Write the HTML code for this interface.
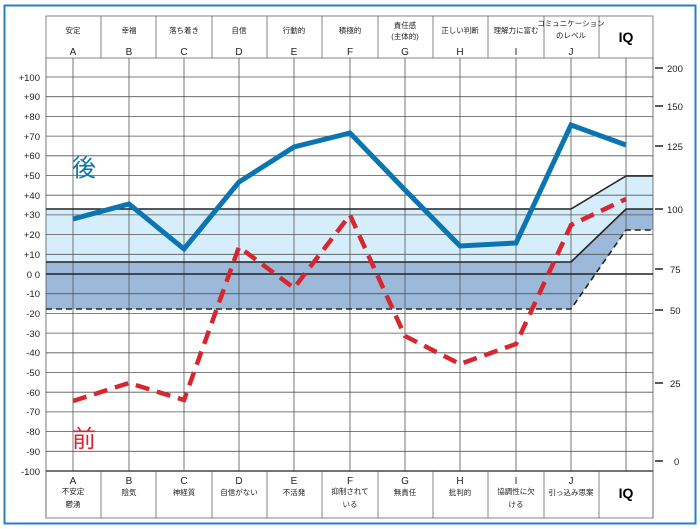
<!DOCTYPE html>
<html><head><meta charset="utf-8"><style>
body{margin:0;background:#fff;width:700px;height:529px;overflow:hidden}
svg{display:block;font-family:"Liberation Sans","Noto Sans CJK JP",sans-serif}
</style></head><body>
<svg width="700" height="529" viewBox="0 0 700 529">
<rect x="4.5" y="5.5" width="691" height="518" fill="#fff" stroke="#2a7fc0" stroke-width="2"/>
<!-- bands -->
<polygon points="46,209 571,209 626,176 653,176 653,209 626,209 571,262 46,262" fill="#d6eefb"/>
<polygon points="46,262 571,262 626,209 653,209 653,230 626,230 571,309 46,309" fill="#9db9da"/>
<!-- grid -->
<g stroke="#555" stroke-width="0.8">
<line x1="46" y1="77" x2="653" y2="77"/><line x1="46" y1="96.7" x2="653" y2="96.7"/><line x1="46" y1="116.4" x2="653" y2="116.4"/><line x1="46" y1="136.1" x2="653" y2="136.1"/><line x1="46" y1="155.8" x2="653" y2="155.8"/><line x1="46" y1="175.5" x2="653" y2="175.5"/><line x1="46" y1="195.2" x2="653" y2="195.2"/><line x1="46" y1="214.9" x2="653" y2="214.9"/><line x1="46" y1="234.6" x2="653" y2="234.6"/><line x1="46" y1="254.3" x2="653" y2="254.3"/><line x1="46" y1="293.7" x2="653" y2="293.7"/><line x1="46" y1="313.4" x2="653" y2="313.4"/><line x1="46" y1="333.1" x2="653" y2="333.1"/><line x1="46" y1="352.8" x2="653" y2="352.8"/><line x1="46" y1="372.5" x2="653" y2="372.5"/><line x1="46" y1="392.2" x2="653" y2="392.2"/><line x1="46" y1="411.9" x2="653" y2="411.9"/><line x1="46" y1="431.6" x2="653" y2="431.6"/><line x1="46" y1="451.3" x2="653" y2="451.3"/>
<line x1="73" y1="58" x2="73" y2="471"/><line x1="129" y1="58" x2="129" y2="471"/><line x1="184" y1="58" x2="184" y2="471"/><line x1="239" y1="58" x2="239" y2="471"/><line x1="294" y1="58" x2="294" y2="471"/><line x1="350" y1="58" x2="350" y2="471"/><line x1="405" y1="58" x2="405" y2="471"/><line x1="460" y1="58" x2="460" y2="471"/><line x1="516" y1="58" x2="516" y2="471"/><line x1="571" y1="58" x2="571" y2="471"/><line x1="626" y1="58" x2="626" y2="471"/>
<line x1="46" y1="58" x2="46" y2="518"/><line x1="653" y1="58" x2="653" y2="518"/>
</g>
<g stroke="#222" stroke-width="1.6" fill="none">
<line x1="46" y1="274" x2="653" y2="274"/>
<polyline points="46,209 571,209 626,176 653,176"/>
<polyline points="46,262 571,262 626,209 653,209"/>
<polyline points="46,309 571,309 626,230 653,230" stroke-dasharray="6,4"/>
<line x1="46" y1="471" x2="653" y2="471"/>
</g>
<!-- header boxes -->
<g stroke="#666" stroke-width="0.8" fill="none">
<rect x="46" y="16" width="607" height="42"/>
<rect x="46" y="471" width="607" height="47"/>
<line x1="101" y1="16" x2="101" y2="58"/><line x1="156" y1="16" x2="156" y2="58"/><line x1="212" y1="16" x2="212" y2="58"/><line x1="267" y1="16" x2="267" y2="58"/><line x1="322" y1="16" x2="322" y2="58"/><line x1="378" y1="16" x2="378" y2="58"/><line x1="433" y1="16" x2="433" y2="58"/><line x1="488" y1="16" x2="488" y2="58"/><line x1="544" y1="16" x2="544" y2="58"/><line x1="599" y1="16" x2="599" y2="58"/>
<line x1="101" y1="471" x2="101" y2="518"/><line x1="156" y1="471" x2="156" y2="518"/><line x1="212" y1="471" x2="212" y2="518"/><line x1="267" y1="471" x2="267" y2="518"/><line x1="322" y1="471" x2="322" y2="518"/><line x1="378" y1="471" x2="378" y2="518"/><line x1="433" y1="471" x2="433" y2="518"/><line x1="488" y1="471" x2="488" y2="518"/><line x1="544" y1="471" x2="544" y2="518"/><line x1="599" y1="471" x2="599" y2="518"/>
</g>
<g font-size="7.5" text-anchor="middle" fill="#222">
<text x="73" y="33">安定</text><text x="129" y="33">幸福</text><text x="184" y="33">落ち着き</text><text x="239" y="33">自信</text><text x="294" y="33">行動的</text><text x="350" y="33">積極的</text><text x="405" y="28">責任感</text><text x="405" y="39">(主体的)</text><text x="460" y="33">正しい判断</text><text x="516" y="33">理解力に富む</text><text x="571" y="26">コミュニケーション</text><text x="571" y="38">のレベル</text>
</g>
<g font-size="10" text-anchor="middle" fill="#222">
<text x="73" y="55">A</text><text x="129" y="55">B</text><text x="184" y="55">C</text><text x="239" y="55">D</text><text x="294" y="55">E</text><text x="350" y="55">F</text><text x="405" y="55">G</text><text x="460" y="55">H</text><text x="516" y="55">I</text><text x="571" y="55">J</text>
<text x="73" y="484">A</text><text x="129" y="484">B</text><text x="184" y="484">C</text><text x="239" y="484">D</text><text x="294" y="484">E</text><text x="350" y="484">F</text><text x="405" y="484">G</text><text x="460" y="484">H</text><text x="516" y="484">I</text><text x="571" y="484">J</text>
</g>
<text x="626" y="42" font-size="14" font-weight="bold" text-anchor="middle">IQ</text>
<text x="626" y="498" font-size="14" font-weight="bold" text-anchor="middle">IQ</text>
<g font-size="7.5" text-anchor="middle" fill="#222">
<text x="73" y="494">不安定</text><text x="73" y="507">鬱湧</text><text x="129" y="495">陰気</text><text x="184" y="495">神経質</text><text x="239" y="495">自信がない</text><text x="294" y="495">不活発</text><text x="350" y="494">抑制されて</text><text x="350" y="507">いる</text><text x="405" y="495">無責任</text><text x="460" y="495">批判的</text><text x="516" y="494">協調性に欠</text><text x="516" y="507">ける</text><text x="571" y="495">引っ込み思案</text>
</g>
<!-- left labels -->
<g font-size="9.5" text-anchor="end" fill="#222">
<text x="40" y="81">+100</text><text x="40" y="100">+90</text><text x="40" y="120">+80</text><text x="40" y="140">+70</text><text x="40" y="159">+60</text><text x="40" y="179">+50</text><text x="40" y="199">+40</text><text x="40" y="218">+30</text><text x="40" y="238">+20</text><text x="40" y="258">+10</text><text x="40" y="278">0 0</text><text x="40" y="297">-10</text><text x="40" y="317">-20</text><text x="40" y="337">-30</text><text x="40" y="356">-40</text><text x="40" y="376">-50</text><text x="40" y="396">-60</text><text x="40" y="415">-70</text><text x="40" y="435">-80</text><text x="40" y="455">-90</text><text x="40" y="475">-100</text>
</g>
<!-- right axis -->
<g stroke="#222" stroke-width="1.5">
<line x1="655" y1="68" x2="663" y2="68"/><line x1="655" y1="106" x2="663" y2="106"/><line x1="655" y1="146" x2="663" y2="146"/><line x1="655" y1="209" x2="663" y2="209"/><line x1="655" y1="269" x2="663" y2="269"/><line x1="655" y1="310" x2="663" y2="310"/><line x1="655" y1="383" x2="663" y2="383"/><line x1="655" y1="461" x2="663" y2="461"/>
</g>
<g font-size="9.5" fill="#222">
<text x="667" y="72">200</text><text x="667" y="110">150</text><text x="667" y="150">125</text><text x="667" y="213">100</text><text x="670" y="273">75</text><text x="670" y="314">50</text><text x="670" y="387">25</text><text x="674" y="465">0</text>
</g>
<!-- series -->
<polyline points="73,219 129,204 184,249 239,182 294,147 350,133 405,190 460,246 516,243 571,125 626,145" fill="none" stroke="#0a75b0" stroke-width="5" stroke-linejoin="miter"/>
<polyline points="73,401 129,383 184,400 239,247 294,288 350,215 405,336 460,364 516,344 571,225 626,199" fill="none" stroke="#d7262e" stroke-width="4.5" stroke-dasharray="14,8"/>
<text x="72" y="176" font-size="24" fill="#0a75b0">後</text>
<text x="72" y="447" font-size="24" fill="#d7262e">前</text>
</svg>
</body></html>
